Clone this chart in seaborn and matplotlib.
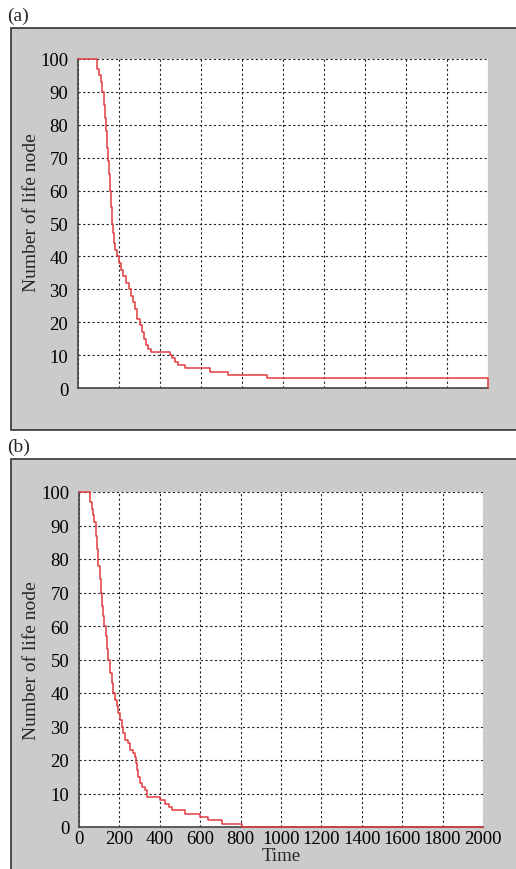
import matplotlib
matplotlib.use("Agg")
import matplotlib.pyplot as plt
from matplotlib.patches import Rectangle
import seaborn as sns
import pandas as pd

# ---- data ----
time_a = [0, 91, 100, 110, 118, 125, 130, 137, 142, 148, 153, 158, 162, 165, 170,
          175, 182, 192, 200, 208, 220, 235, 248, 258, 268, 280, 290, 300, 310, 320,
          330, 343, 355, 450, 460, 475, 490, 520, 642, 730, 920, 2000]
nodes_a = [100, 97, 95, 93, 90, 86, 82, 78, 73, 69, 65, 60, 55, 50, 47,
           44, 42, 40, 38, 36, 34, 32, 30, 28, 26, 24, 21, 19, 17, 15,
           13, 12, 11, 10, 9, 8, 7, 6, 5, 4, 3, 0]

time_b = [0, 55, 63, 70, 76, 82, 87, 92, 96, 102, 107, 113, 120, 126, 132, 138,
          145, 153, 162, 170, 178, 186, 195, 203, 211, 219, 228, 244, 252, 269,
          277, 280, 285, 290, 300, 310, 327, 335, 401, 426, 445, 459, 525, 600,
          640, 706, 805, 2000]
nodes_b = [100, 97, 95, 93, 91, 87, 83, 80, 78, 74, 70, 66, 63, 60, 57, 53,
           50, 46, 43, 40, 38, 36, 34, 32, 30, 28, 26, 25, 23, 22,
           21, 19, 17, 15, 13, 12, 11, 9, 8, 7, 6, 5, 4, 3,
           2, 1, 0, 0]

x_ticks = list(range(0, 2001, 200))
y_ticks = list(range(0, 101, 10))
panel_labels = ["(a)", "(b)"]
x_label = "Time"
y_label = "Number of life node"

# ---- style ----
sns.set_style("white")
plt.rcParams['font.family'] = ['Liberation Serif', 'DejaVu Serif']

W, H = 516, 870
fig = plt.figure(figsize=(W / 100, H / 100), dpi=100)

gray = '#cbcbcb'
# gray panel boxes
fig.add_artist(Rectangle((11 / W, 1 - 431 / H), (W - 11) / W + 0.02, (431 - 29) / H,
                         transform=fig.transFigure, facecolor=gray,
                         edgecolor='#333333', lw=1.2, zorder=0))
fig.add_artist(Rectangle((11 / W, -0.02), (W - 11) / W + 0.02, (H - 460) / H + 0.02,
                         transform=fig.transFigure, facecolor=gray,
                         edgecolor='#333333', lw=1.2, zorder=0))

fig.text(7 / W, 1 - 16 / H, panel_labels[0], fontsize=14, va='center', ha='left')
fig.text(7 / W, 1 - 447 / H, panel_labels[1], fontsize=14, va='center', ha='left')

ax_a = fig.add_axes([78 / W, 1 - 389 / H, 410 / W, 329 / H])
ax_b = fig.add_axes([79 / W, 1 - 828 / H, 404 / W, 335 / H])

line_color = '#e23b40'

for ax, t, n, show_x in [(ax_a, time_a, nodes_a, False), (ax_b, time_b, nodes_b, True)]:
    df = pd.DataFrame({'Time': t, 'Nodes': n})
    sns.lineplot(data=df, x='Time', y='Nodes', ax=ax, drawstyle='steps-post',
                 color=line_color, linewidth=1.1, clip_on=False, zorder=5)
    ax.set_facecolor('white')
    ax.set_xlim(0, 2000)
    ax.set_ylim(0, 100)
    ax.set_xticks(x_ticks)
    ax.set_yticks(y_ticks)
    ax.set_axisbelow(True)
    ax.grid(True, color='#222222', linestyle=(0, (2, 2.2)), linewidth=0.8)
    for s in ['top', 'right']:
        ax.spines[s].set_visible(False)
    for s in ['left', 'bottom']:
        ax.spines[s].set_color('#444444')
        ax.spines[s].set_linewidth(1.2)
    ax.tick_params(axis='both', direction='in', length=5, width=0.9, color='#333333',
                   labelsize=13.5, labelcolor='black')
    ax.tick_params(axis='y', pad=7)
    ax.tick_params(axis='x', pad=2, labelbottom=show_x)
    ax.set_ylabel(y_label, fontsize=14)
    if show_x:
        ax.set_xlabel(x_label, fontsize=13.5, labelpad=0.5)
    else:
        ax.set_xlabel('')

ax_a.yaxis.set_label_coords(-0.093, 0.535)
ax_b.yaxis.set_label_coords(-0.097, 0.5)

fig.savefig('out.png', dpi=100)
